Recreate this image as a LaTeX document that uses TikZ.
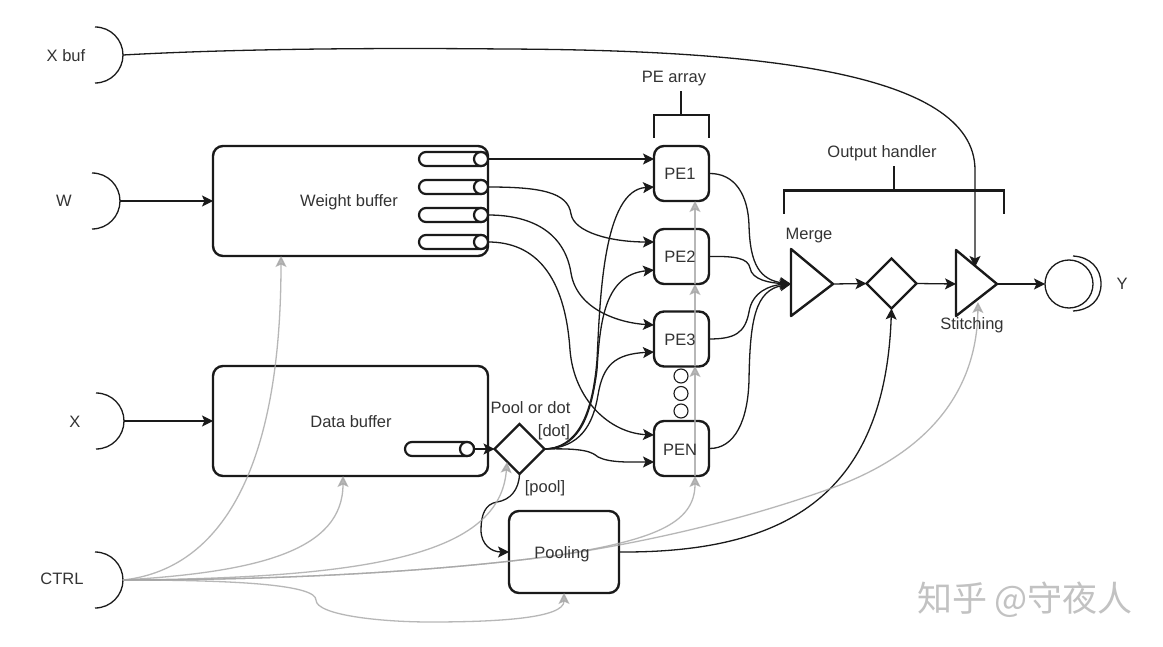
\documentclass[tikz,border=0pt]{standalone}
\usepackage{fontspec}
\setmainfont{Liberation Sans}
\newfontfamily\cjkwm{Noto Sans CJK SC}
\usetikzlibrary{arrows.meta,shapes.geometric}
\definecolor{ink}{HTML}{1A1A1A}
\definecolor{txt}{HTML}{333333}
\definecolor{ctl}{HTML}{A6A6A6}
\tikzset{
  box/.style={draw=ink,line width=2.4pt,rounded corners=10pt,inner sep=0pt,outer sep=0pt,text=txt},
  pebox/.style={box,minimum width=55pt,minimum height=55pt},
  label/.style={text=txt,inner sep=0pt,outer sep=0pt,yshift=-1pt,font=\fontsize{16.5}{19}\selectfont},
  spoolbody/.style={draw=ink,line width=2.2pt,rounded corners=7pt,minimum width=69pt,minimum height=14pt,inner sep=0pt,outer sep=0pt},
  spoolend/.style={circle,draw=ink,line width=2.2pt,fill=white,minimum size=14pt,inner sep=0pt,outer sep=0pt},
  dots/.style={circle,draw=ink,line width=1.1pt,minimum size=14pt,inner sep=0pt,outer sep=0pt},
  gate/.style={diamond,aspect=1,draw=ink,line width=2.4pt,minimum width=50pt,minimum height=50pt,inner sep=0pt,outer sep=0pt},
  tri/.style={draw=ink,line width=2.4pt,line join=round},
  bracket/.style={draw=ink,line width=2.5pt},
  link/.style={draw=ink,line width=1.3pt,-{Stealth[length=11pt,width=11pt,inset=2.5pt]}},
  ctlink/.style={draw=ctl,draw opacity=.8,fill opacity=.8,line width=1.3pt,-{Stealth[length=11pt,width=11pt,inset=2.5pt]}},
  arcline/.style={draw=ink,line width=1.3pt},
}
\newcommand{\portarc}[3]{%
  \coordinate (#1) at (#2,#3);
  \draw[arcline] (#2-28,#3-28) .. controls (#2-12,#3-28) and (#2,#3-15) .. (#2,#3)
     .. controls (#2,#3+15) and (#2-12,#3+28) .. (#2-28,#3+28);}
\newcommand{\spoolat}[3]{%
  \node[spoolbody] (#1body) at (#2-34.5,#3) {};
  \node[spoolend] (#1) at (#2-7,#3) {};}
\begin{document}
\begin{tikzpicture}[x=1pt,y=-1pt]
\useasboundingbox (0,0) rectangle (1163,647);
\fill[white] (0,0) rectangle (1163,647);

% input ports
\portarc{xbuf}{123}{55}
\portarc{w}{120}{201}
\portarc{x}{124}{421}
\portarc{ctrl}{123}{580}
\node[label] (lxbuf) at (66,55) {X buf};
\node[label] (lw) at (64,200) {W};
\node[label] (lx) at (75,421) {X};
\node[label] (lctrl) at (62,578) {CTRL};

% boxes
\node[box,minimum width=275pt,minimum height=110pt] (wb) at (350.5,201) {};
\node[box,minimum width=275pt,minimum height=110pt] (db) at (350.5,421) {};
\node[box,minimum width=110pt,minimum height=82pt] (pool) at (564,552) {};
\node[pebox] (pe1) at (681.5,173.5) {};
\node[pebox] (pe2) at (681.5,256.5) {};
\node[pebox] (pe3) at (681.5,339) {};
\node[pebox] (pen) at (681.5,448.5) {};
\node[dots] (o1) at (681,376) {};
\node[dots] (o2) at (681,393.5) {};
\node[dots] (o3) at (681,411) {};

% spools
\spoolat{s1}{488}{159}
\spoolat{s2}{488}{187}
\spoolat{s3}{488}{215}
\spoolat{s4}{488}{242}
\spoolat{s5}{474}{449}

% gates
\node[gate] (dot) at (519.5,449) {};
\node[gate] (gb) at (891.5,283.5) {};

% triangles
\draw[tri] (791,249) -- (833,284) -- (791,316) -- cycle;
\draw[tri] (956,250) -- (997,284) -- (956,316) -- cycle;
\coordinate (mergein) at (791,284);
\coordinate (mergeout) at (833,284);
\coordinate (stin) at (956,284);
\coordinate (stout) at (997,284);
\coordinate (sttop) at (975,267);
\coordinate (stbot) at (978,302);

% Y
\node[circle,draw=ink,line width=1.3pt,minimum size=48pt,inner sep=0pt,outer sep=0pt] (yc) at (1069,284) {};
\draw[arcline] (1073,256) .. controls (1090,257) and (1101,268) .. (1101,284) .. controls (1101,300) and (1090,310) .. (1073,311);

% brackets
\draw[bracket] (654,138) -- (654,115) -- (709,115) -- (709,138);
\draw[bracket] (681,115) -- (681,91);
\draw[bracket] (784,214) -- (784,190.5) -- (1004,190.5) -- (1004,214);
\draw[bracket] (894,190) -- (894,166);

% PE inlets
\coordinate (pe1a) at (654,159);
\coordinate (pe1b) at (654,187);
\coordinate (pe2a) at (654,242);
\coordinate (pe2b) at (654,270);
\coordinate (pe3a) at (654,325);
\coordinate (pe3b) at (654,352);
\coordinate (pena) at (654,435);
\coordinate (penb) at (654,462);

% black connectors
\draw[link] (w) -- (wb.west);
\draw[link] (x) -- (db.west);
\draw[link] (s1.east) -- (pe1a);
\draw[link] (s2.east) .. controls (540,187) and (568,192) .. (571,214) .. controls (574,232) and (610,242) .. (pe2a);
\draw[link] (s3.east) .. controls (535,215) and (565,235) .. (571,273) .. controls (577,310) and (620,323) .. (pe3a);
\draw[link] (s4.east) .. controls (535,242) and (565,275) .. (570,350) .. controls (574,400) and (610,433) .. (pena);
\draw[link] (s5.east) -- (dot.west);
\draw[link] (dot.east) .. controls (575,448) and (592,420) .. (597,360) .. controls (600,300) and (603,190) .. (pe1b);
\draw[link] (dot.east) .. controls (575,448) and (590,425) .. (597,370) .. controls (600,320) and (605,275) .. (pe2b);
\draw[link] (dot.east) .. controls (580,448) and (593,425) .. (598,395) .. controls (603,365) and (615,354) .. (pe3b);
\draw[link] (dot.east) .. controls (585,448) and (592,452) .. (598,457) .. controls (610,463) and (630,462) .. (penb);
\draw[link] (pe1.east) .. controls (735,173) and (748,195) .. (749,225) .. controls (750,265) and (760,280) .. (mergein);
\draw[link] (pe2.east) .. controls (735,256) and (748,258) .. (750,268) .. controls (752,280) and (770,283) .. (mergein);
\draw[link] (pe3.east) .. controls (735,339) and (745,333) .. (749,312) .. controls (752,292) and (770,285) .. (mergein);
\draw[link] (pen.east) .. controls (735,449) and (748,420) .. (749,380) .. controls (750,320) and (755,290) .. (mergein);
\draw[link] (mergeout) -- (gb.west);
\draw[link] (gb.east) -- (stin);
\draw[link] (stout) -- (yc.west);
\draw[link] (xbuf) .. controls (250,48) and (400,48) .. (504,49) .. controls (750,50) and (975,70) .. (975,170) -- (sttop);
\draw[link] (pool.east) .. controls (780,553) and (885,500) .. (gb.south);
\draw[link] (dot.south) .. controls (519,490) and (510,500) .. (497,502) .. controls (485,504) and (481,515) .. (481,530) .. controls (481,545) and (492,552) .. (pool.west);

% grey control connectors
\coordinate (wbb) at (281,256);
\coordinate (dbb) at (343,476);
\coordinate (dotb) at (507,462);
\coordinate (penb2) at (695,476);
\coordinate (pe3b2) at (695,366);
\coordinate (pe2b2) at (695,284);
\coordinate (pe1b2) at (695,201);
\draw[ctlink] (ctrl) .. controls (215,570) and (281,480) .. (wbb);
\draw[ctlink] (ctrl) .. controls (260,572) and (343,550) .. (dbb);
\draw[ctlink] (ctrl) .. controls (370,578) and (500,555) .. (dotb);
\draw[ctlink] (ctrl) .. controls (300,580) and (450,570) .. (560,555) .. controls (650,540) and (695,525) .. (penb2);
\draw[ctlink] (ctrl) .. controls (300,580) and (450,570) .. (560,555) .. controls (660,540) and (760,515) .. (840,485) .. controls (930,450) and (977,390) .. (stbot);
\draw[ctlink] (penb2) -- (pe3b2);
\draw[ctlink] (pe3b2) -- (pe2b2);
\draw[ctlink] (pe2b2) -- (pe1b2);
\draw[ctlink] (ctrl) .. controls (240,580) and (316,585) .. (316,600) .. controls (316,615) and (380,622) .. (430,622) .. controls (500,622) and (564,618) .. (pool.south);

% labels
\node[label] (tw) at (349,201) {Weight buffer};
\node[label] (td) at (351,421) {Data buffer};
\node[label] (tp) at (562,553) {Pooling};
\node[label] (t1) at (680,173) {PE1};
\node[label] (t2) at (680,256) {PE2};
\node[label] (t3) at (680,339) {PE3};
\node[label] (tn) at (680,449) {PEN};
\node[label] (tarr) at (674,78) {PE array};
\node[label] (toh) at (882,152) {Output handler};
\node[label] (tm) at (809,235) {Merge};
\node[label] (ts) at (972,324) {Stitching};
\node[label] (tpd) at (530.5,407) {Pool or dot};
\node[label] (tdot) at (554,431) {[dot]};
\node[label] (tpool) at (545,487) {[pool]};
\node[label] (ty) at (1122,283) {Y};
\node[text=black!24,inner sep=0pt,font=\cjkwm\fontsize{35}{38}\selectfont] (wm) at (1025,600) {知乎 @守夜人};
\end{tikzpicture}
\end{document}
